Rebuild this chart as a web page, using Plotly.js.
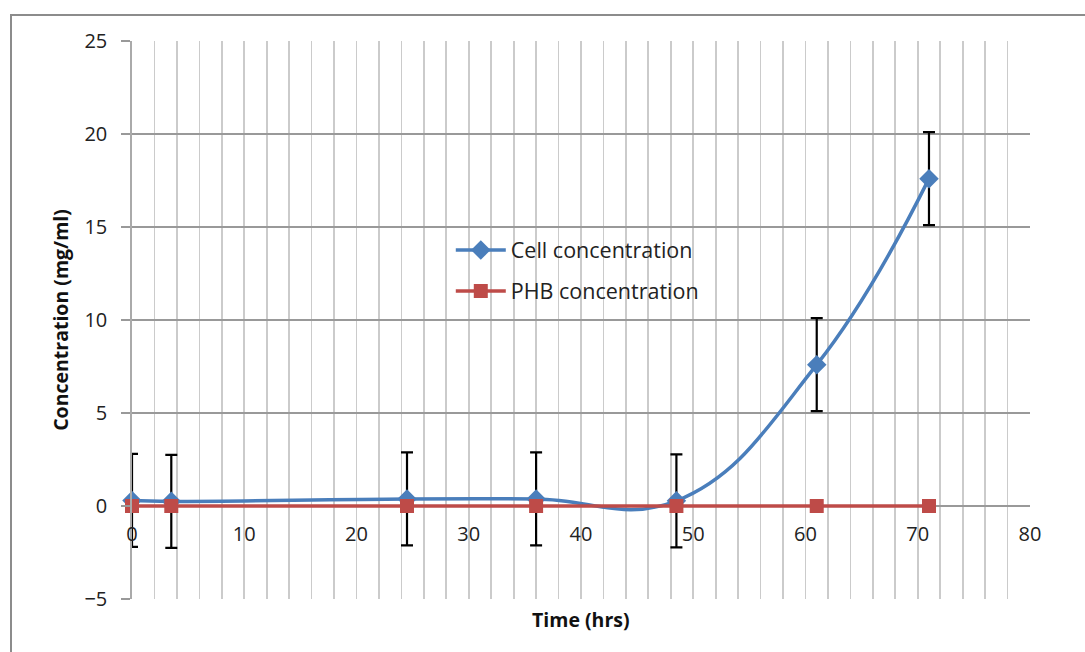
<!DOCTYPE html>
<html>
<head>
<meta charset="utf-8">
<script src="https://cdn.plot.ly/plotly-3.0.1.min.js"></script>
<style>
  html, body { margin: 0; padding: 0; background: #fff; }
  #wrap { position: relative; width: 1085px; height: 652px; overflow: hidden; }
  #frame { position: absolute; left: 10px; top: 14px; width: 1100px; height: 700px; border-left: 2px solid #8c8c8c; border-top: 2px solid #8c8c8c; box-sizing: border-box; pointer-events: none; z-index: 5; }
  #chart { position: absolute; left: 0; top: 0; width: 1085px; height: 652px; }
</style>
</head>
<body>
<div id="wrap">
  <div id="chart"></div>
  <div id="frame"></div>
</div>
<script>
const timeHrs = [0, 3.5, 24.5, 36, 48.5, 61, 71];
const cellConc = [0.3, 0.25, 0.38, 0.38, 0.28, 7.6, 17.6];
const cellErr = [2.5, 2.5, 2.5, 2.5, 2.5, 2.5, 2.5];
const phbConc = [0, 0, 0, 0, 0, 0, 0];
const xTickVals = [0, 10, 20, 30, 40, 50, 60, 70, 80];
const yTickVals = [-5, 0, 5, 10, 15, 20, 25];

const FONT = "'Open Sans', 'Noto Sans', sans-serif";
const blue = '#4A7EBB';
const red = '#BE4B48';

const traces = [
  {
    x: timeHrs, y: cellConc, name: 'Cell concentration', type: 'scatter', mode: 'lines+markers',
    line: { color: blue, width: 3.5, shape: 'spline', smoothing: 1.2 },
    marker: { symbol: 'diamond', size: 15, color: blue },
    error_y: { type: 'data', array: cellErr, visible: true, color: '#000', thickness: 2.2, width: 6 },
    legendgroup: 'a', cliponaxis: false
  },
  {
    x: timeHrs, y: phbConc, name: 'PHB concentration', type: 'scatter', mode: 'lines+markers',
    line: { color: red, width: 3.5 },
    marker: { symbol: 'square', size: 14, color: red },
    legendgroup: 'b', cliponaxis: false
  }
];

const layout = {
  width: 1085, height: 652,
  margin: { l: 132, r: 55, t: 41, b: 53 },
  paper_bgcolor: '#fff', plot_bgcolor: '#fff',
  font: { family: FONT, size: 20, color: '#222' },
  showlegend: true,
  legend: {
    x: 0.355, y: 0.662, xanchor: 'left', yanchor: 'top',
    bgcolor: 'rgba(255,255,255,0)', font: { family: FONT, size: 21.5, color: '#222' },
    traceorder: 'grouped', tracegroupgap: 10, itemwidth: 50
  },
  xaxis: {
    range: [0, 80], tickvals: xTickVals, ticks: '', showline: false,
    showgrid: true, gridcolor: '#cbcbcb', gridwidth: 1.7,
    minor: { dtick: 2, showgrid: true, gridcolor: '#cbcbcb', gridwidth: 1.7 },
    zeroline: false, anchor: 'free', position: 1/6, ticklabelstandoff: 14,
    tickfont: { family: FONT, size: 20, color: '#222' }
  },
  yaxis: {
    range: [-5, 25], tickvals: yTickVals, ticks: 'outside', ticklen: 9, tickcolor: '#999', tickwidth: 1.7,
    showgrid: true, gridcolor: '#999', gridwidth: 1.7,
    zeroline: false, showline: true, linecolor: '#aaa', linewidth: 1.7,
    ticklabelstandoff: 10,
    tickfont: { family: FONT, size: 20, color: '#222' },
    title: { text: '<b>Concentration (mg/ml)</b>', font: { family: FONT, size: 19.5, color: '#111' }, standoff: 10 }
  },
  annotations: [
    { text: '<b>Time (hrs)</b>', xref: 'paper', yref: 'paper', x: 0.5, y: -0.036, xanchor: 'center', yanchor: 'middle',
      showarrow: false, font: { family: FONT, size: 19.5, color: '#111' } }
  ]
};

Plotly.newPlot('chart', traces, layout, { displayModeBar: false, staticPlot: true });
</script>
</body>
</html>
